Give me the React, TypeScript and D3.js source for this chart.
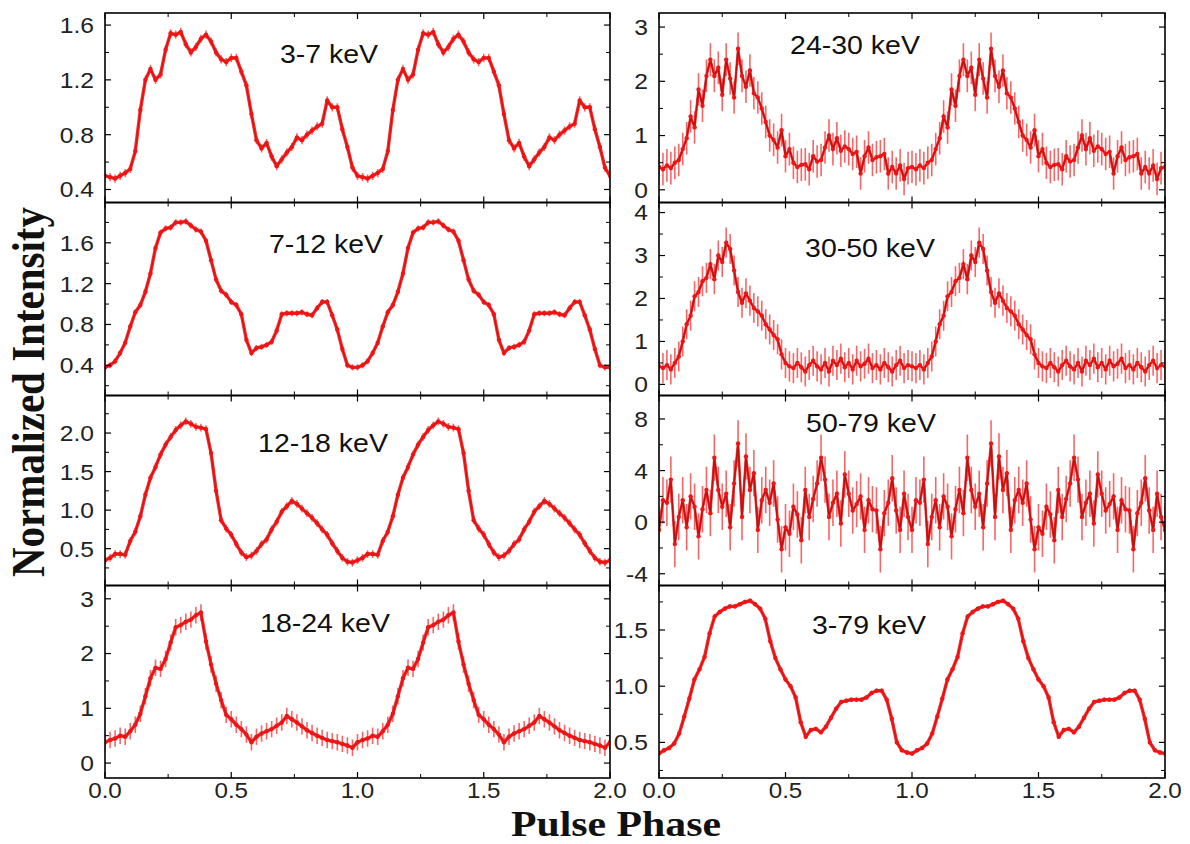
import React from 'react';
import * as d3 from 'd3';

// ---- data (normalized intensity per phase bin, one cycle; plotted twice) ----
const prof3to7 = [0.50,0.49,0.48,0.50,0.52,0.55,0.68,0.98,1.20,1.28,1.20,1.24,1.42,1.54,1.53,1.55,1.46,1.40,1.44,1.50,1.53,1.48,1.40,1.35,1.33,1.36,1.36,1.26,1.16,0.95,0.76,0.70,0.74,0.64,0.57,0.62,0.67,0.71,0.78,0.76,0.80,0.83,0.86,0.88,1.05,1.00,1.00,0.84,0.71,0.56];
const prof7to12 = [0.38,0.40,0.44,0.52,0.62,0.78,0.92,0.99,1.12,1.30,1.55,1.70,1.74,1.75,1.80,1.80,1.81,1.77,1.73,1.71,1.62,1.43,1.24,1.13,1.09,1.02,0.99,0.90,0.65,0.52,0.57,0.58,0.60,0.63,0.74,0.90,0.91,0.91,0.91,0.92,0.90,0.89,0.96,1.02,1.02,0.89,0.75,0.56,0.40,0.38];
const prof12to18 = [0.35,0.38,0.43,0.43,0.42,0.60,0.72,0.92,1.20,1.42,1.56,1.72,1.85,1.95,2.04,2.10,2.15,2.12,2.08,2.07,2.05,1.74,1.25,0.87,0.76,0.68,0.56,0.45,0.39,0.41,0.47,0.56,0.62,0.75,0.85,0.98,1.05,1.12,1.08,1.02,0.96,0.90,0.83,0.75,0.68,0.57,0.47,0.38,0.33,0.32];
const prof18to24 = [0.38,0.42,0.45,0.50,0.48,0.58,0.70,0.90,1.22,1.55,1.74,1.72,1.90,2.20,2.48,2.52,2.58,2.62,2.70,2.75,2.22,1.80,1.45,1.15,0.88,0.80,0.70,0.62,0.52,0.38,0.48,0.54,0.58,0.62,0.68,0.74,0.86,0.80,0.74,0.67,0.60,0.55,0.50,0.46,0.42,0.40,0.38,0.35,0.32,0.28];
const prof24to30 = [0.42,0.38,0.45,0.40,0.50,0.55,0.75,0.95,1.35,1.15,1.85,1.55,2.10,2.40,2.10,2.25,1.75,2.40,2.05,1.70,2.60,2.10,1.90,2.20,1.78,1.70,1.50,1.25,1.00,0.92,0.78,1.10,0.62,0.75,0.50,0.42,0.46,0.47,0.38,0.62,0.52,0.55,0.78,1.00,0.75,0.95,0.72,0.80,0.75,0.66,0.70,0.30,0.62,0.78,0.55,0.60,0.62,0.66,0.30,0.42,0.30,0.45,0.20,0.40];
const prof30to50 = [0.42,0.38,0.45,0.35,0.50,0.65,1.00,1.40,1.60,2.05,2.15,2.40,2.48,2.80,2.45,3.00,2.85,3.30,3.15,2.65,2.15,1.90,2.12,1.95,1.78,1.70,1.60,1.40,1.28,1.15,1.05,0.70,0.50,0.42,0.38,0.50,0.40,0.30,0.45,0.55,0.42,0.35,0.50,0.30,0.55,0.45,0.60,0.40,0.50,0.35,0.55,0.42,0.48,0.60,0.38,0.45,0.35,0.50,0.40,0.30,0.45,0.55,0.38,0.45];
const prof50to79 = [-0.6,1.7,1.5,3.3,-1.7,0.4,1.7,-0.4,2.0,1.2,-1.1,1.0,2.5,0.7,5.0,2.5,1.2,2.2,-0.4,3.0,6.1,0.4,5.1,2.5,3.8,-0.6,1.7,2.5,1.5,3.0,0.2,-2.1,-0.4,-0.9,1.2,0.6,-1.4,2.5,0.4,1.8,3.0,5.0,3.3,0.4,1.5,2.2,-0.1,3.7,2.2,0.9,1.4,2.0,-0.6,1.7,1.0,0.9,-2.1,0.7,1.5,3.4,0.9,-0.6,2.2,0.4];
const prof3to79 = [0.40,0.43,0.45,0.49,0.58,0.73,0.89,1.06,1.15,1.26,1.47,1.62,1.66,1.69,1.71,1.71,1.73,1.75,1.76,1.73,1.69,1.60,1.40,1.25,1.15,1.06,1.00,0.90,0.68,0.55,0.61,0.62,0.59,0.64,0.72,0.80,0.86,0.87,0.88,0.88,0.88,0.90,0.94,0.96,0.96,0.88,0.71,0.50,0.43,0.41];

const bandLabels = ['3-7 keV','7-12 keV','12-18 keV','18-24 keV','24-30 keV','30-50 keV','50-79 keV','3-79 keV'];
const bandErrors = [0.03, 0.03, 0.05, 0.15, 0.3, 0.35, 1.8, 0.02];
const bandDomains = [[0.305,1.688],[0.104,1.995],[0.022,2.487],[-0.273,3.243],[-0.234,3.259],[-0.258,4.234],[-4.91,9.82],[0.183,1.896]];
const yTickValues = [[0.4,0.8,1.2,1.6],[0.4,0.8,1.2,1.6],[0.5,1.0,1.5,2.0],[0,1,2,3],[0,1,2,3],[0,1,2,3,4],[-4,0,4,8],[0.5,1.0,1.5]];
const yTickLabels = [['0.4','0.8','1.2','1.6'],['0.4','0.8','1.2','1.6'],['0.5','1.0','1.5','2.0'],['0','1','2','3'],['0','1','2','3'],['0','1','2','3','4'],['-4','0','4','8'],['0.5','1.0','1.5']];
const yMinorStep = [0.2, 0.2, 0.25, 0.5, 0.5, 0.5, 2, 0.25];
const xTickValues = [0, 0.5, 1.0, 1.5, 2.0];
const xTickLabels = ['0.0','0.5','1.0','1.5','2.0'];
const xMinorValues = [0.25, 0.75, 1.25, 1.75];
const series = [prof3to7, prof7to12, prof12to18, prof18to24, prof24to30, prof30to50, prof50to79, prof3to79];

const RED = '#f21414';
const SANS = '"Liberation Sans", Arial, Helvetica, sans-serif';
const SERIF = '"Liberation Serif", "Times New Roman", serif';

const cols = [[105, 610], [659, 1165]];
const rows = [[13, 202.5], [202.5, 395.5], [395.5, 585.5], [585.5, 778]];
const titleX = [329, 326, 323, 325, 855, 870, 871, 869];
const titleY = [63, 253, 452, 632, 54, 257, 432, 634];

function Panel({ k }: { k: number }) {
  const col = k < 4 ? 0 : 1;
  const row = k % 4;
  const [x0, x1] = cols[col];
  const [y0, y1] = rows[row];
  const x = d3.scaleLinear().domain([0, 2]).range([x0, x1]);
  const dom = bandDomains[k];
  const y = d3.scaleLinear().domain(dom).range([y1, y0]);
  const vals = series[k];
  const n = vals.length;
  const pts: { p: number; v: number }[] = [];
  for (let c = 0; c < 2; c++) vals.forEach((v, i) => pts.push({ p: c + i / n, v }));
  pts.push({ p: 2, v: vals[0] });
  const err = bandErrors[k];
  const line = d3.line<{ p: number; v: number }>().x(d => x(d.p)).y(d => y(d.v));
  const path = line(pts) || '';
  const minor = d3.range(Math.ceil(dom[0] / yMinorStep[k]) * yMinorStep[k], dom[1], yMinorStep[k])
    .filter(v => !yTickValues[k].some(t => Math.abs(t - v) < 1e-6));
  const clipId = `clip${k}`;
  const lw = 1.6;
  const noisy = k >= 4 && k <= 6;
  return (
    <g>
      <defs>
        <clipPath id={clipId}>
          <rect x={x0} y={y0} width={x1 - x0} height={y1 - y0} />
        </clipPath>
      </defs>
      <g clipPath={`url(#${clipId})`}>
        {pts.map((d, i) => (
          <line key={'e' + i} x1={x(d.p)} x2={x(d.p)} y1={y(d.v - err)} y2={y(d.v + err)} stroke={RED} strokeOpacity={0.65} strokeWidth={1.6} />
        ))}
        <path d={path} fill="none" stroke="#000" strokeWidth={noisy ? 1.6 : 1.4} />
        <path d={path} fill="none" stroke={RED} strokeOpacity={noisy ? 0.8 : 0.9} strokeWidth={noisy ? 2.6 : 3.4} strokeLinejoin="round" />
        {pts.map((d, i) => (
          <circle key={'c' + i} cx={x(d.p)} cy={y(d.v)} r={2.2} fill={RED} />
        ))}
      </g>
      <rect x={x0} y={y0} width={x1 - x0} height={y1 - y0} fill="none" stroke="#000" strokeWidth={lw} />
      {yTickValues[k].map((t, i) => (
        <g key={'yt' + i}>
          <line x1={x0} x2={x0 + 6} y1={y(t)} y2={y(t)} stroke="#000" strokeWidth={1.2} />
          <line x1={x1} x2={x1 - 6} y1={y(t)} y2={y(t)} stroke="#000" strokeWidth={1.2} />
          <text transform={`translate(${x0 - 11},${y(t)}) scale(1.12,1)`} dy="0.36em" textAnchor="end" fontFamily={SANS} fontSize={22} fill="#222">{yTickLabels[k][i]}</text>
        </g>
      ))}
      {minor.map((t, i) => (
        <g key={'ym' + i}>
          <line x1={x0} x2={x0 + 4} y1={y(t)} y2={y(t)} stroke="#000" strokeWidth={1} />
          <line x1={x1} x2={x1 - 4} y1={y(t)} y2={y(t)} stroke="#000" strokeWidth={1} />
        </g>
      ))}
      {xTickValues.map((t, i) => (
        <g key={'xt' + i}>
          <line x1={x(t)} x2={x(t)} y1={y0} y2={y0 + 6} stroke="#000" strokeWidth={1.2} />
          <line x1={x(t)} x2={x(t)} y1={y1} y2={y1 - 6} stroke="#000" strokeWidth={1.2} />
        </g>
      ))}
      {xMinorValues.map((t, i) => (
        <g key={'xm' + i}>
          <line x1={x(t)} x2={x(t)} y1={y0} y2={y0 + 4} stroke="#000" strokeWidth={1} />
          <line x1={x(t)} x2={x(t)} y1={y1} y2={y1 - 4} stroke="#000" strokeWidth={1} />
        </g>
      ))}
      {row === 3 && xTickValues.map((t, i) => (
        <text key={'xl' + i} transform={`translate(${x(t)},798) scale(1.1,1)`} textAnchor="middle" fontFamily={SANS} fontSize={22} fill="#222">{xTickLabels[i]}</text>
      ))}
      <text transform={`translate(${titleX[k]},${titleY[k]}) scale(1.14,1)`} textAnchor="middle" fontFamily={SANS} fontSize={25} fill="#111">{bandLabels[k]}</text>
    </g>
  );
}

export default function App() {
  return (
    <svg width={1190} height={844} viewBox="0 0 1190 844" style={{ position: 'absolute', left: 0, top: 0, background: '#fff' }}>
      <rect x={0} y={0} width={1190} height={844} fill="#fff" />
      {d3.range(8).map(k => <Panel key={k} k={k} />)}
      <text transform="translate(44,392) rotate(-90) scale(1,1.14)" textAnchor="middle" fontFamily={SERIF} fontWeight="bold" fontSize={41} fill="#111">Normalized Intensity</text>
      <text transform="translate(616,836) scale(1.16,1)" textAnchor="middle" fontFamily={SERIF} fontWeight="bold" fontSize={36} fill="#111">Pulse Phase</text>
    </svg>
  );
}
